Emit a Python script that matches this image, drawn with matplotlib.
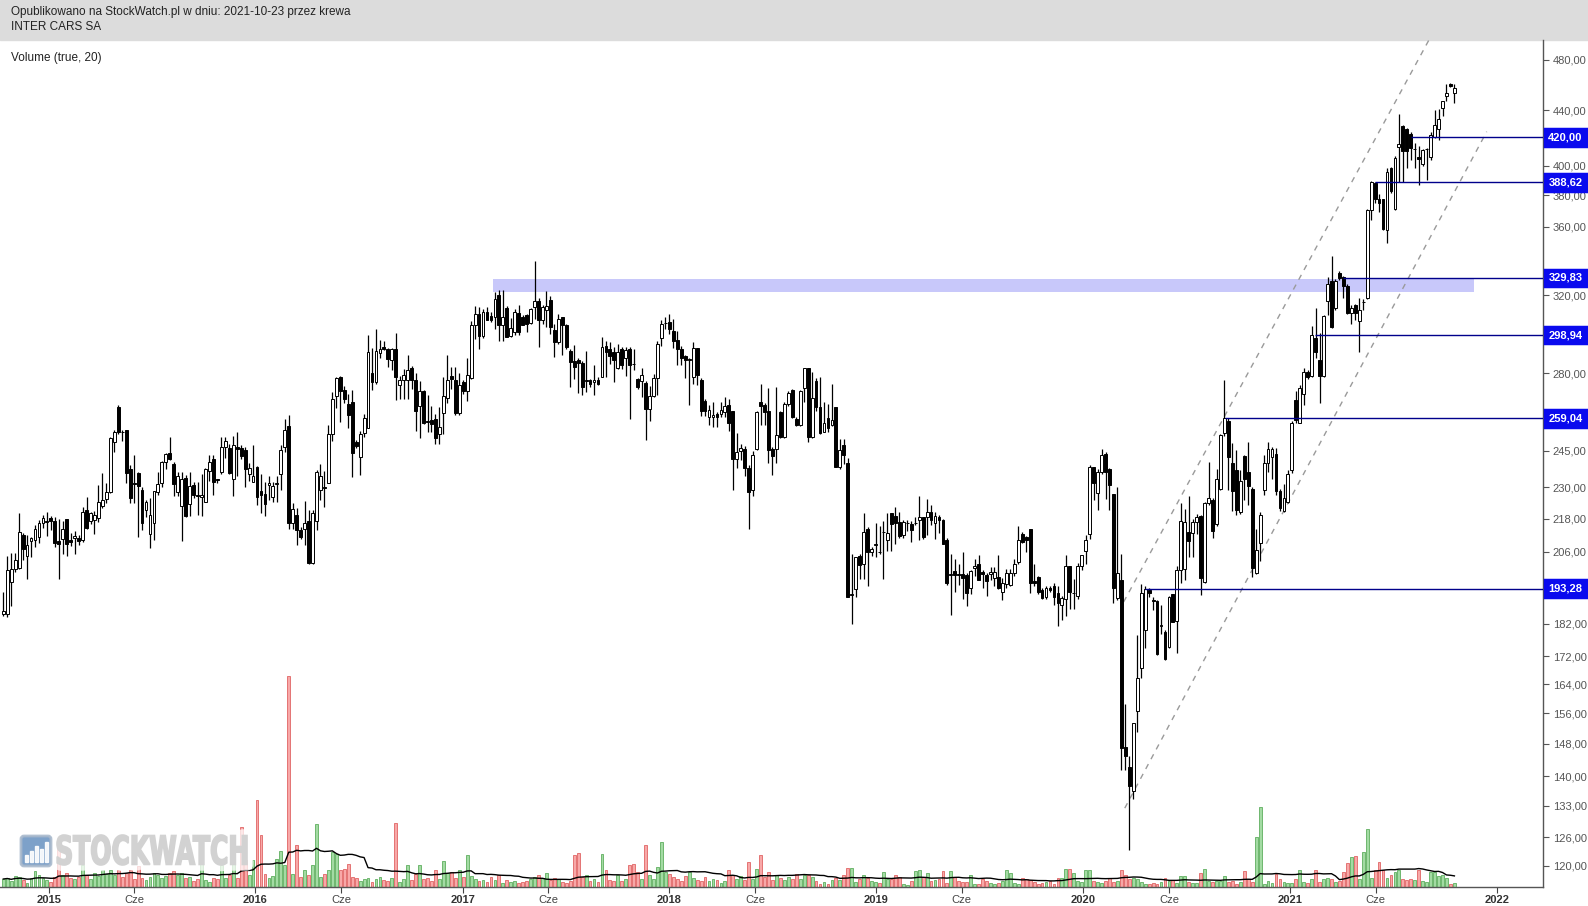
import matplotlib
matplotlib.use("Agg")
import matplotlib.pyplot as plt
import matplotlib.dates as mdates
import matplotlib.ticker as mticker
import matplotlib.transforms as mtrans
from matplotlib.patches import Rectangle, PathPatch, FancyBboxPatch
from matplotlib.textpath import TextPath
from matplotlib.font_manager import FontProperties
import numpy as np
import pandas as pd

plt.rcParams['font.family'] = ['Liberation Sans', 'DejaVu Sans']

# weekly candles, Inter Cars SA
weeks = pd.date_range('2014-10-13', periods=367, freq='7D')

opens = [
    185, 185, 195.4, 200, 200.4, 212, 204.5, 209.8, 210.1, 211.2,
    216.4, 216.8, 218.4, 217.2, 209.8, 210.6, 217.8, 210.1, 210.9, 211,
    210.1, 221.4, 217.1, 217.4, 218.3, 222.8, 225.5, 228.1, 248.6, 264.2,
    253.2, 253.9, 237.6, 231.6, 235.7, 228.9, 221.2, 212.3, 216.2, 228.3,
    231.6, 240.2, 244, 239.5, 228.3, 222.6, 233.7, 223.6, 231, 226.9,
    226.1, 224.5, 236.5, 241.5, 233.2, 236, 246.5, 246.3, 233.4, 246.5,
    246.3, 245.1, 235.3, 232.3, 238.1, 228.5, 227.6, 231, 226.4, 231.5,
    235.4, 246.5, 255.6, 216.2, 219.2, 213.9, 214.3, 217.1, 202.1, 217.1,
    228.9, 230.3, 231.6, 252.3, 269.4, 278, 272, 265.5, 266.6, 248.7,
    242.3, 252.7, 254.6, 280, 275.5, 290, 292.8, 292, 286.6, 292,
    274.5, 276.7, 276.9, 282.3, 276.5, 264.7, 271.3, 257.8, 258.3, 258.6,
    252.3, 261.4, 268.1, 278.6, 276.5, 261.4, 275.5, 271.3, 277.8, 304,
    310.1, 298.5, 310.9, 308.8, 308.1, 320, 304, 313.4, 298.5, 300.7,
    310.5, 308.6, 309.3, 305.2, 313.8, 317, 307, 312, 317.7, 301.5,
    295.6, 308.6, 304, 290.7, 286, 286.6, 285, 276.1, 276.5, 275.8,
    276.9, 278.3, 293.3, 291.7, 290.2, 282.6, 291.9, 287.5, 291.9, 284.5,
    277.2, 276.2, 275.2, 263.4, 269, 277.8, 297.4, 305, 305.5, 301,
    296.2, 291.6, 288.1, 286.3, 278, 292.3, 276.9, 267, 259.5, 259.5,
    261.1, 261.1, 261.9, 265.2, 262.3, 241.5, 245, 245.9, 238, 228.9,
    245.9, 266.2, 265, 262.2, 245.7, 245.8, 261.9, 251, 265.6, 272,
    258.6, 256, 272.8, 282.3, 250.7, 276.2, 264, 253, 259, 256,
    264, 238.1, 247.5, 240, 191.3, 193.3, 204.4, 201.5, 214.2, 205.8,
    208.5, 206, 213, 210.3, 220.2, 218.9, 216.7, 212, 216.4, 216,
    216.4, 217.4, 218.7, 218.7, 220.6, 216.3, 218.7, 217.5, 210.3, 197.8,
    199.1, 198.2, 198.2, 198, 193.5, 200.1, 201.8, 199, 198, 198.2,
    196.9, 197.2, 192, 194.7, 194.4, 198.6, 202.4, 212.3, 211.2, 214.2,
    195.8, 197.2, 192.7, 190.5, 193.6, 194.3, 191.7, 187.8, 189.7, 200.8,
    191.7, 191, 200.8, 206.1, 212.3, 238.4, 227.9, 236, 243.8, 237.3,
    227.4, 190.3, 196.3, 147.3, 142.3, 136.4, 156.7, 168.7, 180, 192.8,
    189.5, 189.3, 181.2, 179.5, 174.8, 191.4, 182.8, 199.7, 200, 213,
    212.8, 216.6, 218.9, 195.6, 223.8, 225.1, 215.9, 229.4, 252.4, 258,
    239.7, 236.9, 220.5, 242.7, 236.2, 229.4, 198.7, 208.9, 229, 239.7,
    242.4, 243.8, 228.6, 220.8, 224.5, 236.9, 267.4, 257.1, 269.9, 280.4,
    278.8, 297.4, 286.6, 278.8, 316.8, 327.9, 313, 332.7, 330.2, 325.4,
    310.4, 314.7, 306.1, 316.3, 318.6, 370.7, 388.1, 377.4, 377.4, 358.3,
    398.2, 371.4, 413.4, 428.2, 425.7, 422.7, 411.3, 406.3, 401.1, 411.3,
    406.3, 420.1, 426.2, 441.6, 450.7, 460.3, 453.1,
]

highs = [
    192, 204.5, 205.6, 205.6, 220, 212.5, 211.8, 211.3, 215.6, 217.5,
    219.4, 220.4, 219, 218.5, 217.8, 217.2, 218, 212.7, 213.5, 212,
    222.3, 226.1, 220.5, 221, 230.9, 235.7, 231.8, 251, 253.9, 265,
    254, 254, 239, 243.1, 236, 230, 225, 225.9, 228.5, 236,
    240.7, 244, 251, 240.5, 236, 236, 235, 236, 232, 232,
    235.5, 238, 243, 243, 233.5, 251, 251, 248, 251.3, 253.2,
    247.5, 246.5, 240, 247.5, 238.5, 235.4, 232, 234.5, 232.3, 234.5,
    247.5, 258.6, 260.5, 223.8, 222, 215, 224.6, 221.2, 221.2, 237,
    239.5, 236.5, 256, 270.9, 278.3, 278.5, 274, 270, 272, 249.5,
    253.5, 261, 298.8, 292.3, 302.2, 296.5, 296, 292.5, 292.5, 300,
    278.5, 282, 289, 283.5, 280, 276, 272, 269.5, 264.5, 261,
    264, 278, 289, 283, 283, 280, 276.5, 287.5, 306, 314,
    313.5, 312.5, 313.5, 311, 322, 323, 323, 314, 308, 312.5,
    315, 309.5, 310, 313, 339.6, 318.5, 315, 322.2, 319.5, 304.5,
    310, 308.6, 304.5, 292, 293.8, 287.5, 286, 291, 277, 284,
    278, 297.8, 296, 295.5, 293, 294.5, 293, 293, 293, 292,
    277.5, 282.5, 276, 274, 279.5, 296, 306.5, 308.5, 310, 307.5,
    301, 293.5, 289, 287.5, 295.6, 292.3, 277.5, 268, 265, 266.5,
    262, 266.5, 268.5, 268, 262.3, 252.5, 248, 247, 239, 245,
    262.5, 274.6, 266, 272.8, 246.5, 273.2, 262.5, 266.5, 271.5, 272.5,
    259.5, 272, 282.3, 282.3, 280.5, 277.5, 278, 266.5, 265.5, 275,
    264, 250, 250, 242, 205.3, 204, 205, 220.2, 215, 207.5,
    216.4, 215.3, 217.1, 220.2, 220.2, 222.4, 220.5, 217.5, 217.5, 217,
    218.5, 226.7, 218.7, 225.4, 223, 220.5, 219.5, 218, 211, 205.3,
    203.3, 201.5, 206, 198.5, 199.5, 203.5, 204.7, 199.5, 198.5, 200.5,
    200.5, 204.9, 197, 200, 199.8, 203.5, 215.3, 213, 211.5, 214.2,
    201.5, 197.5, 193.5, 194, 194, 195, 194, 191, 204.7, 200.8,
    196.5, 202, 203, 212, 239, 238.4, 237.5, 245.9, 244.5, 238,
    227.4, 230, 205.3, 158.4, 145, 153.4, 178.4, 194.7, 194.3, 193.5,
    190.5, 189.5, 187.8, 180, 191, 191.5, 201, 224, 221.8, 226.8,
    217.9, 219.8, 219.2, 224.5, 240.3, 225.8, 237.4, 252, 276.6, 259,
    248.3, 245.3, 236.9, 243, 248.6, 230, 214, 220.5, 243.1, 248.6,
    246.7, 246, 229.4, 231.2, 236.9, 257.8, 271.5, 274.4, 282.5, 281.3,
    303.8, 313, 300.2, 309.3, 330.2, 342.4, 329.3, 333.5, 331, 326.5,
    315, 315.5, 318.6, 318, 371.5, 389.5, 388.8, 381.2, 378, 398.2,
    398.9, 406.6, 437.3, 428.7, 426.7, 423.9, 416.2, 413.9, 411.7, 412.6,
    423.9, 440.4, 441.3, 447.3, 460.3, 461, 460.3,
]

lows = [
    184.5, 184, 187.6, 199, 200, 203, 196.4, 204, 207.6, 209.2,
    214.6, 211.7, 213.7, 207.5, 196.4, 205.2, 204.6, 207.8, 205, 208.5,
    209.5, 214.2, 216, 212.3, 216.7, 222, 224, 228, 244.6, 252,
    249, 231.6, 223.8, 223.8, 211.2, 213.7, 218.7, 207.3, 210.1, 227,
    230, 237.5, 241, 226.6, 226.6, 209.9, 218.5, 219, 226, 219.2,
    219, 224.5, 232.5, 227, 231.8, 235.5, 242, 235.3, 226.7, 234.7,
    241.5, 230, 232.7, 232.3, 223.2, 220.2, 219, 225, 224.5, 224.5,
    228.9, 244.6, 214.3, 214.3, 208.5, 210.5, 208.5, 201.5, 201.5, 213.7,
    225, 222.4, 231.6, 249.1, 263.7, 257.2, 266, 254.6, 234.2, 246,
    235, 251, 254.6, 272, 275, 287.5, 291.5, 283, 281.5, 267.4,
    268, 268, 268, 272.5, 253.6, 250.5, 256.5, 253, 253, 248,
    248, 252, 266, 272.5, 260.5, 260.5, 270, 267, 277, 297,
    292, 297.5, 306.5, 305.5, 302, 296, 296, 297.8, 298, 299,
    299, 304, 300.5, 304.5, 307.5, 292.7, 304.5, 303, 299.5, 287.7,
    294.5, 289, 292, 273.3, 277, 270.4, 269.7, 271, 273.5, 269.5,
    274.5, 278.3, 278.3, 284.5, 275.5, 282, 282, 278.5, 258.6, 281.5,
    272.5, 268.5, 249.6, 258, 268.5, 269.5, 293.5, 302, 299.5, 292.5,
    283.9, 283.9, 277.5, 265.2, 275, 274.5, 259.9, 259.9, 256, 255,
    255, 259.5, 259.5, 253.5, 228.9, 238, 241, 234.4, 214.3, 226.5,
    245.5, 256, 256, 240, 235, 240, 250.5, 250.5, 264.5, 259,
    255.5, 255.5, 266.5, 248.6, 250.5, 262.5, 252, 253, 253, 255.5,
    238.1, 237.5, 239.5, 190.6, 182, 190.5, 196.5, 196.5, 194, 204.5,
    204, 205.3, 196.4, 206.3, 206.3, 208.7, 210.7, 210.7, 213.5, 209.3,
    215.5, 210.3, 210.5, 212, 215.5, 210.5, 212.5, 208.7, 194.5, 184.6,
    192, 194.5, 190, 187.7, 191.5, 197.5, 196, 193.5, 191, 196,
    194, 193, 189.5, 193.5, 194, 197.5, 201.5, 209, 206, 191.7,
    194, 191.5, 190, 190, 192, 188, 181.2, 183, 184.5, 186.5,
    186.5, 190, 199.5, 201.5, 210.5, 225.1, 221.2, 235.5, 225.4, 221.2,
    188.7, 189.5, 141.4, 141.4, 123.2, 134.5, 151, 165.8, 174.6, 190.5,
    186.3, 172.5, 178.8, 171, 174.5, 182.5, 173, 195, 196.3, 204.1,
    204.1, 212.2, 191.3, 195, 223.2, 210.8, 215.3, 229, 251.2, 229,
    220.7, 219.2, 219.8, 225.1, 223.2, 197.3, 198.1, 202.8, 227.1, 236.2,
    233.3, 227, 220.8, 220.5, 224, 235.6, 257.1, 256.8, 265.1, 277.1,
    278, 287.5, 265.8, 278.3, 309.6, 302.5, 312, 328.5, 318.6, 309.9,
    304.7, 306.6, 290.2, 312, 318, 364.3, 375, 369.6, 358.3, 350.4,
    381.8, 370.7, 388.8, 388.8, 398.2, 404.2, 398.2, 386.6, 399.8, 390.5,
    403.6, 419.4, 417.8, 436, 446.8, 458, 445.5,
]

closes = [
    186, 199.5, 200, 203, 213, 207, 208.2, 210.7, 214.2, 216.2,
    218.4, 217.2, 217, 209.2, 208.8, 214.3, 208.7, 209.5, 211.6, 209.8,
    220.6, 214.6, 220.2, 219.2, 224.3, 225.1, 228.1, 250.3, 253.2, 252.9,
    253, 235.7, 226, 231.2, 230.6, 216.2, 224.3, 219.4, 228.5, 231.3,
    240.2, 243.5, 241.4, 231.2, 234.4, 233.4, 218.8, 230.7, 227, 226.7,
    226.9, 237.3, 240.5, 232.3, 232.9, 246.7, 249.2, 235.7, 247.5, 245.8,
    242.8, 237.3, 237.7, 234.7, 226.4, 227.2, 223.6, 231.9, 230.6, 231.9,
    245.4, 253.9, 216.2, 221.6, 213.7, 211.3, 216.2, 201.9, 220.2, 236,
    234.7, 229.7, 252.3, 267.7, 277.8, 271.7, 267.7, 260.5, 244.2, 247.1,
    252, 259.3, 290.4, 275.5, 290.7, 292, 292, 287, 292, 278,
    276.5, 279, 281.6, 276.9, 262.3, 271.7, 257.1, 257.5, 256.6, 250.3,
    255.2, 269, 276.5, 277.1, 261.4, 274.5, 271.3, 279, 304, 310.1,
    298.5, 310.9, 307, 306.6, 318.3, 304, 308.6, 297.8, 302.5, 310.9,
    300.7, 304.3, 304.7, 312.4, 317, 306.8, 313.8, 314.2, 303, 295.6,
    307.3, 304, 292.7, 285.5, 283, 285, 273.5, 276.9, 274.8, 276.9,
    275, 292.7, 290.4, 288.4, 286.3, 290.2, 283.9, 291.5, 283.9, 284.2,
    273.2, 279, 263.4, 269.4, 277.8, 294.2, 304.7, 305.2, 301.8, 296,
    291.6, 287.2, 286.3, 287, 292.3, 279, 262.3, 262.3, 263, 260.5,
    259.5, 263, 264.5, 257.1, 241.4, 244.3, 246, 238, 228.3, 243.3,
    261.9, 264.5, 261.9, 245.4, 242.9, 251.8, 251, 265.6, 270.6, 259.5,
    256, 271.5, 282.3, 250.7, 268.1, 264, 252.5, 257.1, 254.9, 258.3,
    238.1, 245.4, 243.1, 190.6, 191.4, 204, 201.2, 213.2, 205.8, 207,
    208.8, 205.8, 213.2, 212.5, 216, 216.3, 211.6, 216.7, 216.4, 213.7,
    216.4, 218.7, 211.1, 220.6, 217.4, 218.9, 217.4, 208.7, 195.2, 198.2,
    197.8, 197.8, 196.9, 191.7, 199.1, 200.8, 196.3, 198.2, 195.8, 199,
    199, 193.5, 195.2, 198.6, 198.6, 201.8, 210.1, 209.5, 210, 195.3,
    195.3, 192, 190.3, 193.5, 192.8, 190.5, 188.4, 190.3, 200.8, 192.3,
    191.9, 200.8, 204.7, 210.1, 238.4, 231.6, 236.4, 243.1, 236, 231,
    193.5, 198.6, 146.9, 145, 137.6, 153.4, 165.8, 191.7, 193.3, 191.7,
    189.3, 172.8, 181.4, 171.1, 190.5, 182.5, 199.7, 217, 216.6, 209.6,
    216.6, 218.5, 196.7, 223.8, 225.8, 213.4, 233.3, 251.6, 259, 242.4,
    228.6, 221.1, 232.7, 233.3, 230.6, 200.2, 206.5, 219.5, 239.7, 245.6,
    245.6, 228.6, 222.1, 225.8, 235.5, 257.1, 258.3, 273.1, 280.4, 278.3,
    298.9, 290.2, 278.8, 308.7, 326.3, 302.9, 327.9, 329.8, 325.4, 310.4,
    313.3, 310.4, 312.1, 316.6, 370.7, 388.6, 377.4, 375, 358.8, 395.8,
    382.9, 405.4, 415.2, 410.2, 410.2, 412.6, 411.6, 404.5, 410.8, 411.6,
    421.5, 429.2, 433.8, 446.8, 453.4, 459, 457.4,
]

# weekly volume (thousand shares, estimated)
volume = [
    8, 9, 6, 11, 10, 7, 4, 9, 16, 12,
    9, 7, 5, 10, 41, 12, 14, 9, 8, 10,
    22, 12, 8, 14, 11, 17, 13, 17, 12, 17,
    10, 14, 17, 8, 21, 9, 7, 10, 14, 12,
    9, 11, 14, 16, 12, 14, 9, 10, 6, 8,
    44, 7, 5, 9, 8, 22, 9, 12, 32, 9,
    60, 27, 12, 27, 87, 52, 13, 9, 11, 28,
    36, 22, 211, 13, 42, 10, 17, 12, 22, 63,
    10, 13, 17, 35, 33, 17, 18, 23, 10, 9,
    6, 8, 9, 5, 8, 10, 7, 6, 9, 64,
    5, 8, 22, 7, 13, 22, 8, 9, 6, 17,
    8, 26, 14, 15, 9, 17, 10, 32, 11, 8,
    6, 7, 5, 10, 7, 12, 4, 7, 5, 6,
    4, 5, 6, 8, 10, 12, 9, 14, 7, 9,
    8, 5, 4, 6, 32, 34, 10, 12, 6, 8,
    5, 33, 17, 7, 6, 12, 6, 8, 22, 23,
    15, 8, 42, 12, 8, 20, 45, 15, 13, 10,
    8, 6, 11, 15, 9, 7, 6, 10, 6, 8,
    7, 4, 6, 17, 12, 8, 11, 7, 25, 8,
    18, 32, 10, 15, 7, 12, 9, 7, 10, 8,
    13, 8, 12, 12, 10, 6, 3, 5, 3, 7,
    9, 7, 12, 19, 19, 5, 8, 12, 9, 6,
    5, 4, 15, 8, 8, 12, 10, 3, 2, 6,
    16, 17, 10, 14, 6, 7, 8, 16, 4, 16,
    10, 6, 5, 5, 12, 3, 3, 8, 6, 4,
    3, 4, 6, 17, 14, 4, 3, 9, 8, 7,
    5, 3, 4, 5, 6, 3, 9, 9, 18, 18,
    14, 6, 5, 17, 17, 6, 5, 4, 6, 9,
    5, 6, 17, 12, 8, 9, 8, 5, 3, 3,
    4, 3, 5, 9, 6, 7, 4, 11, 11, 5,
    4, 4, 14, 18, 6, 5, 6, 6, 11, 5,
    6, 3, 5, 16, 8, 5, 50, 80, 3, 6,
    4, 13, 8, 5, 4, 4, 8, 17, 5, 4,
    8, 17, 5, 8, 9, 8, 5, 6, 15, 24,
    30, 31, 8, 35, 58, 9, 17, 25, 17, 9,
    12, 15, 17, 8, 7, 8, 7, 17, 6, 5,
    15, 15, 11, 12, 9, 3, 4,
]

# support / resistance levels and where they start
levels = [420.00, 388.62, 329.83, 298.94, 259.04, 193.28]
level_starts = ['2021-08-02', '2021-05-31', '2021-04-05', '2021-02-14', '2020-09-08', '2020-04-20']

# rising channel (dashed)
channel_dates = [['2020-03-13', '2021-09-03'], ['2020-03-15', '2021-12-14']]
channel_prices = [[188.9, 496.5], [132.5, 424.1]]

# resistance zone
zone_dates = ['2017-02-24', '2021-11-21']
zone_prices = [322, 329]

price_ticks = [480, 440, 400, 380, 360, 320, 280, 245, 230, 218, 206, 182, 172, 164, 156, 148, 140, 133, 126, 120]
year_ticks = ['2015', '2016', '2017', '2018', '2019', '2020', '2021', '2022']

W, H = 1588, 906
fig = plt.figure(figsize=(W / 100, H / 100), dpi=100)
fig.patch.set_facecolor('white')
ax = fig.add_axes([0, 19 / H, 1543 / W, 847 / H])
ax2 = ax.twinx()
ax.set_zorder(2)
ax2.set_zorder(1)
ax.patch.set_visible(False)

x = mdates.date2num(weeks)
o = np.array(opens)
h = np.array(highs)
l = np.array(lows)
c = np.array(closes)
up = c >= o

# volume + 20 week average
vol = np.array(volume, dtype=float)
vcol = np.where(up, '#a3dba3', '#f8a8a8')
vedge = np.where(up, '#5fae5f', '#e06464')
ax2.bar(x, vol, width=5, color=vcol, edgecolor=vedge, linewidth=0.6)
sma = pd.Series(vol).rolling(20, min_periods=1).mean()
ax2.plot(x, sma, color='black', lw=1.0)
ax2.set_ylim(0, 847)
ax2.set_yticks([])
for s in ax2.spines.values():
    s.set_visible(False)

# zone
zd = mdates.date2num(pd.to_datetime(zone_dates))
ax.fill_between(zd, zone_prices[0], zone_prices[1], color='#c8c8fa', lw=0, zorder=1)

# candles
ax.vlines(x, l, h, color='black', lw=0.9, zorder=3)
bottom = np.minimum(o, c)
top = np.maximum(o, c)
ax.bar(x, top - bottom, bottom=bottom, width=5, color=np.where(up, 'white', 'black'),
       edgecolor='black', linewidth=0.7, zorder=4)

x_left = mdates.date2num(pd.Timestamp('2015-01-01')) - 85.8
x_right = mdates.date2num(pd.Timestamp('2022-01-01')) + 81.4

# levels
ls = mdates.date2num(pd.to_datetime(level_starts))
ax.hlines(levels, ls, x_right, color='#00008b', lw=1.0, zorder=5)
btrans = mtrans.blended_transform_factory(ax.transAxes, ax.transData)
for lv in levels:
    ax.text(1.0146, lv, f'{lv:.2f}'.replace('.', ','), transform=btrans, ha='center', va='center',
            color='white', fontsize=8, fontweight='bold', clip_on=False, zorder=10,
            bbox=dict(boxstyle='square,pad=0.3', fc='#0a0aee', ec='#0a0aee', lw=2.5))

# channel
for cd, cp in zip(channel_dates, channel_prices):
    ax.plot(mdates.date2num(pd.to_datetime(cd)), cp, color='#9a9a9a', lw=1.0,
            ls=(0, (4, 4)), zorder=2)

ax.set_yscale('log')
ax.set_ylim(115.7, 496.5)
ax.set_xlim(x_left, x_right)
ax.yaxis.tick_right()
ax.set_yticks(price_ticks, [f'{p:.2f}'.replace('.', ',') for p in price_ticks])
ax.yaxis.set_minor_locator(mticker.NullLocator())
ax.tick_params(axis='y', which='major', direction='out', length=4, width=0.8, pad=3,
               colors='#555555', labelsize=8)

xt, xl = [], []
for i, y in enumerate(year_ticks):
    xt.append(mdates.date2num(pd.Timestamp(y + '-01-01')))
    xl.append(y)
    if i < len(year_ticks) - 1:
        xt.append(mdates.date2num(pd.Timestamp(y + '-06-01')))
        xl.append('Cze')
ax.set_xticks(xt, xl)
ax.xaxis.set_minor_locator(mticker.NullLocator())
ax.tick_params(axis='x', direction='out', length=4, width=0.8, pad=2, colors='#444444', labelsize=8)
for t in ax.get_xticklabels():
    if t.get_text() != 'Cze':
        t.set_fontweight('bold')
        t.set_color('#333333')

for side in ['left', 'top']:
    ax.spines[side].set_visible(False)
for side in ['right', 'bottom']:
    ax.spines[side].set_color('#555555')
    ax.spines[side].set_linewidth(1.0)

# header
fig.add_artist(Rectangle((0, 1 - 40 / H), 1, 40 / H, transform=fig.transFigure,
                         color='#dcdcdc', zorder=0))
fig.text(11 / W, 1 - 12.5 / H, 'Opublikowano na StockWatch.pl w dniu: 2021-10-23 przez krewa',
         fontsize=8.5, color='#222222', va='center', ha='left')
fig.text(11 / W, 1 - 27.5 / H, 'INTER CARS SA', fontsize=8.5, color='#222222', va='center', ha='left')
fig.text(11 / W, 1 - 57.7 / H, 'Volume (true, 20)', fontsize=8.5, color='#222222', va='center', ha='left')

# watermark
fp = FontProperties(family=['DejaVu Sans'], weight='bold')
tp = TextPath((0, 0), 'STOCKWATCH', size=40, prop=fp)
ext = tp.get_extents()
sx = 190 / ext.width
sy = 30 / ext.height
tr = mtrans.Affine2D().translate(-ext.x0, -ext.y0).scale(sx, sy).translate(57, H - 865)
fig.add_artist(PathPatch(tp, transform=tr, fc='white', ec='white', lw=9, alpha=0.75,
                         joinstyle='round', zorder=19))
fig.add_artist(PathPatch(tp, transform=tr, fc='#d2d2d2', ec='#d2d2d2', lw=1.2, zorder=20))
fig.add_artist(FancyBboxPatch((21, H - 866), 30, 30, boxstyle='round,pad=0,rounding_size=3',
                              transform=mtrans.IdentityTransform(), fc='#6f97c4', ec='#a9b9cc',
                              lw=2, alpha=0.9, zorder=20))
for k, bh in enumerate([7, 11, 16, 13, 20]):
    fig.add_artist(Rectangle((25 + k * 5, H - 862), 3, bh, transform=mtrans.IdentityTransform(),
                             color='white', alpha=0.9, zorder=21))

fig.savefig('out.png', dpi=100)
